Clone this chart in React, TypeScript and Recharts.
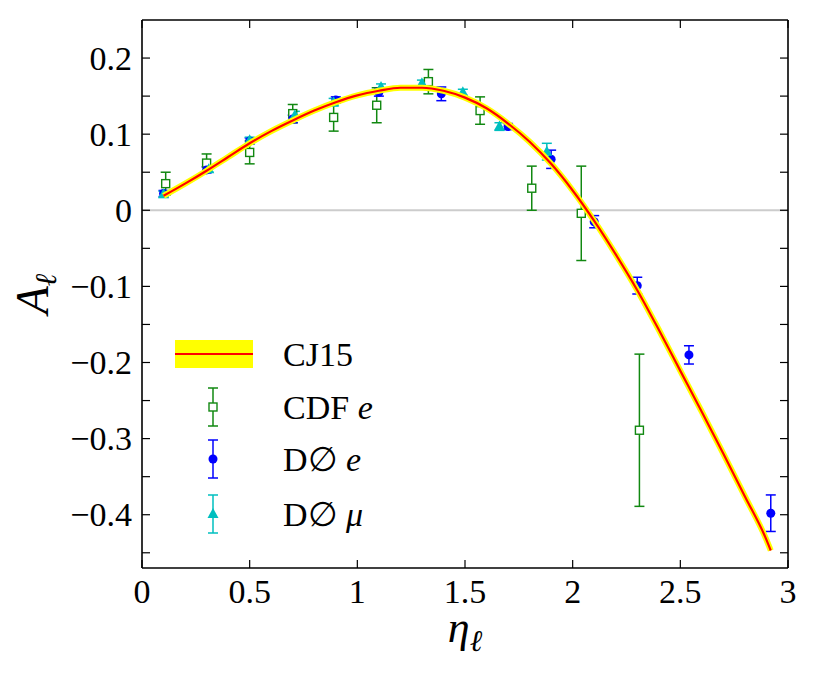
import React from "react";
import {
  ComposedChart,
  Line,
  Scatter,
  ErrorBar,
  XAxis,
  YAxis,
  ReferenceLine,
  Legend,
} from "recharts";

// CJ15 central curve
const curveEta = [0.1, 0.2, 0.3, 0.4, 0.5, 0.6, 0.7, 0.8, 0.9, 1.0, 1.1, 1.2, 1.3, 1.4, 1.5, 1.6, 1.7, 1.8, 1.9, 2.0, 2.1, 2.2, 2.3, 2.4, 2.5, 2.6, 2.7, 2.8, 2.9, 2.92];
const curveA = [0.019, 0.035, 0.052, 0.07, 0.088, 0.104, 0.118, 0.131, 0.142, 0.151, 0.157, 0.161, 0.161, 0.157, 0.148, 0.134, 0.114, 0.09, 0.061, 0.026, -0.014, -0.058, -0.105, -0.157, -0.211, -0.265, -0.32, -0.376, -0.433, -0.447];

// CDF e
const cdfEta = [0.11, 0.3, 0.5, 0.7, 0.89, 1.09, 1.33, 1.57, 1.81, 2.04, 2.31];
const cdfA = [0.035, 0.062, 0.076, 0.127, 0.122, 0.138, 0.169, 0.131, 0.029, -0.004, -0.289];
const cdfErr = [0.015, 0.012, 0.015, 0.012, 0.018, 0.023, 0.016, 0.018, 0.029, 0.062, 0.1];

// D0 e
const d0eEta = [0.1, 0.3, 0.5, 0.7, 0.9, 1.1, 1.39, 1.7, 1.9, 2.1, 2.3, 2.54, 2.92];
const d0eA = [0.022, 0.053, 0.091, 0.12, 0.145, 0.155, 0.153, 0.11, 0.067, -0.015, -0.099, -0.19, -0.398];
const d0eErr = [0.004, 0.004, 0.004, 0.005, 0.004, 0.005, 0.009, 0.004, 0.012, 0.008, 0.011, 0.012, 0.024];

// D0 mu
const d0muEta = [0.1, 0.31, 0.5, 0.71, 0.89, 1.11, 1.3, 1.49, 1.66, 1.88];
const d0muA = [0.021, 0.054, 0.092, 0.125, 0.142, 0.162, 0.167, 0.155, 0.11, 0.077];
const d0muErr = [0.004, 0.004, 0.004, 0.005, 0.005, 0.004, 0.004, 0.004, 0.005, 0.011];

const xTicks = [0, 0.5, 1, 1.5, 2, 2.5, 3];
const yTicks = [-0.45, -0.4, -0.35, -0.3, -0.25, -0.2, -0.15, -0.1, -0.05, 0, 0.05, 0.1, 0.15, 0.2];

const GREEN = "#118811";
const BLUE = "#0000ff";
const CYAN = "#00bfbf";
const FONT = "'Liberation Serif', 'DejaVu Serif', serif";

const curveData = curveEta.map((x, i) => ({ x, a: curveA[i] }));
const cdfData = cdfEta.map((x, i) => ({ x, a: cdfA[i], err: cdfErr[i] }));
const d0eData = d0eEta.map((x, i) => ({ x, a: d0eA[i], err: d0eErr[i] }));
const d0muData = d0muEta.map((x, i) => ({ x, a: d0muA[i], err: d0muErr[i] }));

const fmtY = (v: number) => {
  if (Math.abs(v) < 1e-9) return "0";
  return (v < 0 ? "\u2212" : "") + Math.abs(v).toFixed(1);
};
const isMajorY = (v: number) => Math.abs(v * 10 - Math.round(v * 10)) < 1e-6;

const BottomTick = (p: any) => (
  <g>
    <line x1={p.x} y1={p.y} x2={p.x} y2={p.y - 8} stroke="#000" strokeWidth={1.2} />
    <text x={p.x} y={p.y + 35} textAnchor="middle" fontFamily={FONT} fontSize={34} fill="#000">
      {String(p.payload.value)}
    </text>
  </g>
);
const TopTick = (p: any) => (
  <line x1={p.x} y1={p.y} x2={p.x} y2={p.y + 8} stroke="#000" strokeWidth={1.2} />
);
const LeftTick = (p: any) => (
  <g>
    <line x1={p.x} y1={p.y} x2={p.x + 8} y2={p.y} stroke="#000" strokeWidth={1.2} />
    {isMajorY(p.payload.value) && (
      <text x={p.x - 10} y={p.y + 11.5} textAnchor="end" fontFamily={FONT} fontSize={34} fill="#000">
        {fmtY(p.payload.value)}
      </text>
    )}
  </g>
);
const RightTick = (p: any) => (
  <line x1={p.x} y1={p.y} x2={p.x - 8} y2={p.y} stroke="#000" strokeWidth={1.2} />
);

const Square = (p: any) =>
  p.cx == null ? null : (
    <rect x={p.cx - 4} y={p.cy - 4} width={8} height={8} fill="#fff" stroke={GREEN} strokeWidth={1.4} />
  );
const Dot = (p: any) => (p.cx == null ? null : <circle cx={p.cx} cy={p.cy} r={4.5} fill={BLUE} />);
const Tri = (p: any) =>
  p.cx == null ? null : (
    <polygon
      points={`${p.cx},${p.cy - 6} ${p.cx - 5.5},${p.cy + 4} ${p.cx + 5.5},${p.cy + 4}`}
      fill={CYAN}
    />
  );

const ErrGlyph = ({ x, y, color, children }: any) => (
  <g>
    <line x1={x} y1={y - 19} x2={x} y2={y + 19} stroke={color} strokeWidth={1.5} />
    <line x1={x - 5} y1={y - 19} x2={x + 5} y2={y - 19} stroke={color} strokeWidth={1.5} />
    <line x1={x - 5} y1={y + 19} x2={x + 5} y2={y + 19} stroke={color} strokeWidth={1.5} />
    {children}
  </g>
);

const LegendBox = () => (
  <svg width={260} height={215}>
    <rect x={7} y={7} width={78} height={28} fill="#ffff00" />
    <line x1={7} y1={21} x2={85} y2={21} stroke="#ff0000" strokeWidth={2} />
    <ErrGlyph x={45} y={74} color={GREEN}>
      <rect x={41} y={70} width={8} height={8} fill="#fff" stroke={GREEN} strokeWidth={1.4} />
    </ErrGlyph>
    <ErrGlyph x={45} y={126} color={BLUE}>
      <circle cx={45} cy={126} r={4.5} fill={BLUE} />
    </ErrGlyph>
    <ErrGlyph x={45} y={181} color={CYAN}>
      <polygon points="45,175 39.5,185 50.5,185" fill={CYAN} />
    </ErrGlyph>
    <g fontFamily={FONT} fontSize={34} fill="#000">
      <text x={115} y={33}>CJ15</text>
      <text x={115} y={86}>
        CDF <tspan fontStyle="italic">e</tspan>
      </text>
      <text x={115} y={138}>
        D∅ <tspan fontStyle="italic">e</tspan>
      </text>
      <text x={115} y={193}>
        D∅ <tspan fontStyle="italic">μ</tspan>
      </text>
    </g>
  </svg>
);

const YLabel = (props: any) => {
  const vb = props.viewBox;
  const cy = vb.y + vb.height / 2;
  return (
    <text
      x={40}
      y={cy}
      transform={`rotate(-90, 40, ${cy})`}
      textAnchor="middle"
      fontFamily={FONT}
      fontStyle="italic"
      fontSize={46}
      fill="#000"
    >
      A<tspan fontSize={30} dy={8}>ℓ</tspan>
    </text>
  );
};

const XLabel = (props: any) => {
  const vb = props.viewBox;
  const cx = vb.x + vb.width / 2;
  return (
    <text x={cx} y={vb.y + 74} textAnchor="middle" fontFamily={FONT} fontStyle="italic" fontSize={44} fill="#000">
      η<tspan fontSize={30} dy={9}>ℓ</tspan>
    </text>
  );
};

export default function App() {
  return (
    <ComposedChart width={801} height={665} margin={{ top: 0, right: 0, bottom: 15, left: 0 }}>
      <XAxis
        dataKey="x"
        type="number"
        domain={[0, 3]}
        ticks={xTicks}
        interval={0}
        allowDataOverflow
        height={90}
        tickSize={0}
        tickMargin={0}
        tickLine={false}
        tick={BottomTick}
        axisLine={{ stroke: "#000", strokeWidth: 1.6 }}
        label={{ content: XLabel }}
      />
      <XAxis
        xAxisId="top"
        orientation="top"
        dataKey="x"
        type="number"
        domain={[0, 3]}
        ticks={xTicks}
        interval={0}
        allowDataOverflow
        height={12}
        tickSize={0}
        tickMargin={0}
        tickLine={false}
        tick={TopTick}
        axisLine={{ stroke: "#000", strokeWidth: 1.6 }}
      />
      <YAxis
        dataKey="a"
        type="number"
        domain={[-0.47, 0.25]}
        ticks={yTicks}
        interval={0}
        allowDataOverflow
        width={134}
        tickSize={0}
        tickMargin={0}
        tickLine={false}
        tick={LeftTick}
        axisLine={{ stroke: "#000", strokeWidth: 1.6 }}
        label={{ content: YLabel }}
      />
      <YAxis
        yAxisId="right"
        orientation="right"
        dataKey="a"
        type="number"
        domain={[-0.47, 0.25]}
        ticks={yTicks}
        interval={0}
        allowDataOverflow
        width={21}
        tickSize={0}
        tickMargin={0}
        tickLine={false}
        tick={RightTick}
        axisLine={{ stroke: "#000", strokeWidth: 1.6 }}
      />
      <ReferenceLine y={0} stroke="#cccccc" strokeWidth={2} />
      <Scatter data={cdfData} dataKey="a" shape={Square} isAnimationActive={false}>
        <ErrorBar dataKey="err" direction="y" width={5} stroke={GREEN} strokeWidth={1.5} />
      </Scatter>
      <Scatter data={d0eData} dataKey="a" shape={Dot} isAnimationActive={false}>
        <ErrorBar dataKey="err" direction="y" width={5} stroke={BLUE} strokeWidth={1.5} />
      </Scatter>
      <Scatter data={d0muData} dataKey="a" shape={Tri} isAnimationActive={false}>
        <ErrorBar dataKey="err" direction="y" width={5} stroke={CYAN} strokeWidth={1.5} />
      </Scatter>
      <Line
        data={curveData}
        dataKey="a"
        type="monotone"
        stroke="#ffff00"
        strokeWidth={6}
        dot={false}
        isAnimationActive={false}
        zIndex={700}
      />
      <Line
        data={curveData}
        dataKey="a"
        type="monotone"
        stroke="#ff0000"
        strokeWidth={2.2}
        dot={false}
        isAnimationActive={false}
        zIndex={701}
      />
      <Legend
        layout="vertical"
        verticalAlign="middle"
        align="center"
        content={LegendBox}
        wrapperStyle={{ left: 160, top: 325, width: 260, height: 215 }}
      />
    </ComposedChart>
  );
}
